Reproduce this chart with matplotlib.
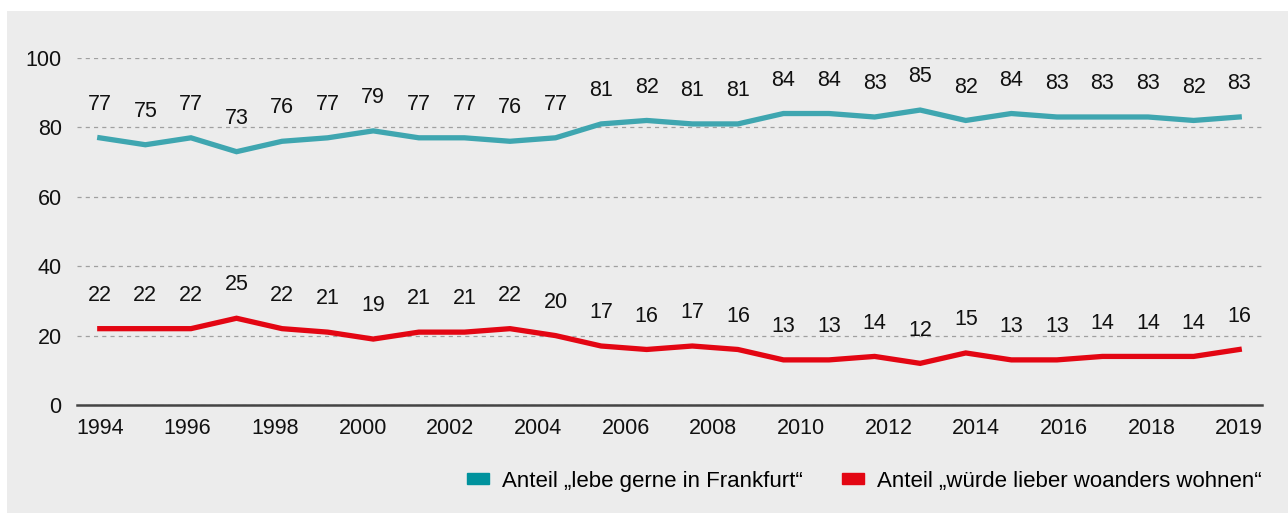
import numpy as np
import matplotlib.pyplot as plt
from matplotlib.patches import Rectangle

plt.rcParams['font.family'] = ['Liberation Sans', 'DejaVu Sans']

# Werte aus der Grafik
jahre_labels = ['1994', '1996', '1998', '2000', '2002', '2004', '2006',
                '2008', '2010', '2012', '2014', '2016', '2018', '2019']
gerne = [77, 75, 77, 73, 76, 77, 79, 77, 77, 76, 77, 81, 82, 81, 81,
         84, 84, 83, 85, 82, 84, 83, 83, 83, 82, 83]
woanders = [22, 22, 22, 25, 22, 21, 19, 21, 21, 22, 20, 17, 16, 17, 16,
            13, 13, 14, 12, 15, 13, 13, 14, 14, 14, 16]
namen = ['Anteil \u201elebe gerne in Frankfurt\u201c',
         'Anteil \u201ew\u00fcrde lieber woanders wohnen\u201c']

teal = '#3fa6b0'
rot = '#e30613'
bg = '#ececec'

fig = plt.figure(figsize=(12.88, 5.13), dpi=100, facecolor='white')
# grauer Hintergrund mit schmalem weissen Rand links und oben
fig.patches.append(Rectangle((7 / 1288, 0), 1281 / 1288, 502 / 513,
                             transform=fig.transFigure, facecolor=bg,
                             edgecolor='none', zorder=-10))
ax = fig.add_axes([77 / 1288, 1 - 405 / 513, (1262 - 77) / 1288, (405 - 58) / 513])
ax.set_facecolor('none')
ax.set_zorder(2)

x = np.arange(len(gerne))
ax.plot(x, gerne, color=teal, lw=3.8, solid_joinstyle='miter', zorder=3)
ax.plot(x, woanders, color=rot, lw=3.8, solid_joinstyle='miter', zorder=3)

for xi, v in zip(x, gerne):
    ax.annotate(str(v), (xi, v), xytext=(0, 24), textcoords='offset points',
                ha='center', va='center', fontsize=15.5, color='#111111')
for xi, v in zip(x, woanders):
    ax.annotate(str(v), (xi, v), xytext=(0, 24), textcoords='offset points',
                ha='center', va='center', fontsize=15.5, color='#111111')

ax.set_xlim(-0.5, len(gerne) - 0.5)
ax.set_ylim(0, 100)
ax.set_yticks([0, 20, 40, 60, 80, 100])
ax.yaxis.grid(True, linestyle=(0, (3.3, 3.3)), color='#a0a0a0', lw=0.9)
ax.set_axisbelow(True)
ax.set_xticks(np.linspace(0, len(gerne) - 1, len(jahre_labels)))
ax.set_xticklabels(jahre_labels)
ax.tick_params(length=0, labelsize=15.5, colors='#111111')
ax.tick_params(axis='y', pad=11)
ax.tick_params(axis='x', pad=9)
for s in ['top', 'right', 'left']:
    ax.spines[s].set_visible(False)
ax.spines['bottom'].set_color('#444444')
ax.spines['bottom'].set_linewidth(1.8)

handles = [Rectangle((0, 0), 1, 1, color='#00929d'), Rectangle((0, 0), 1, 1, color=rot)]
leg = fig.legend(handles, namen, loc='center right', bbox_to_anchor=(1262 / 1288, 1 - 481 / 513),
                 ncol=2, frameon=False, fontsize=16, handlelength=1.0, handleheight=0.36,
                 handletextpad=0.6, columnspacing=1.75, borderpad=0, borderaxespad=0)

fig.savefig('out.png', dpi=100, facecolor=fig.get_facecolor())
